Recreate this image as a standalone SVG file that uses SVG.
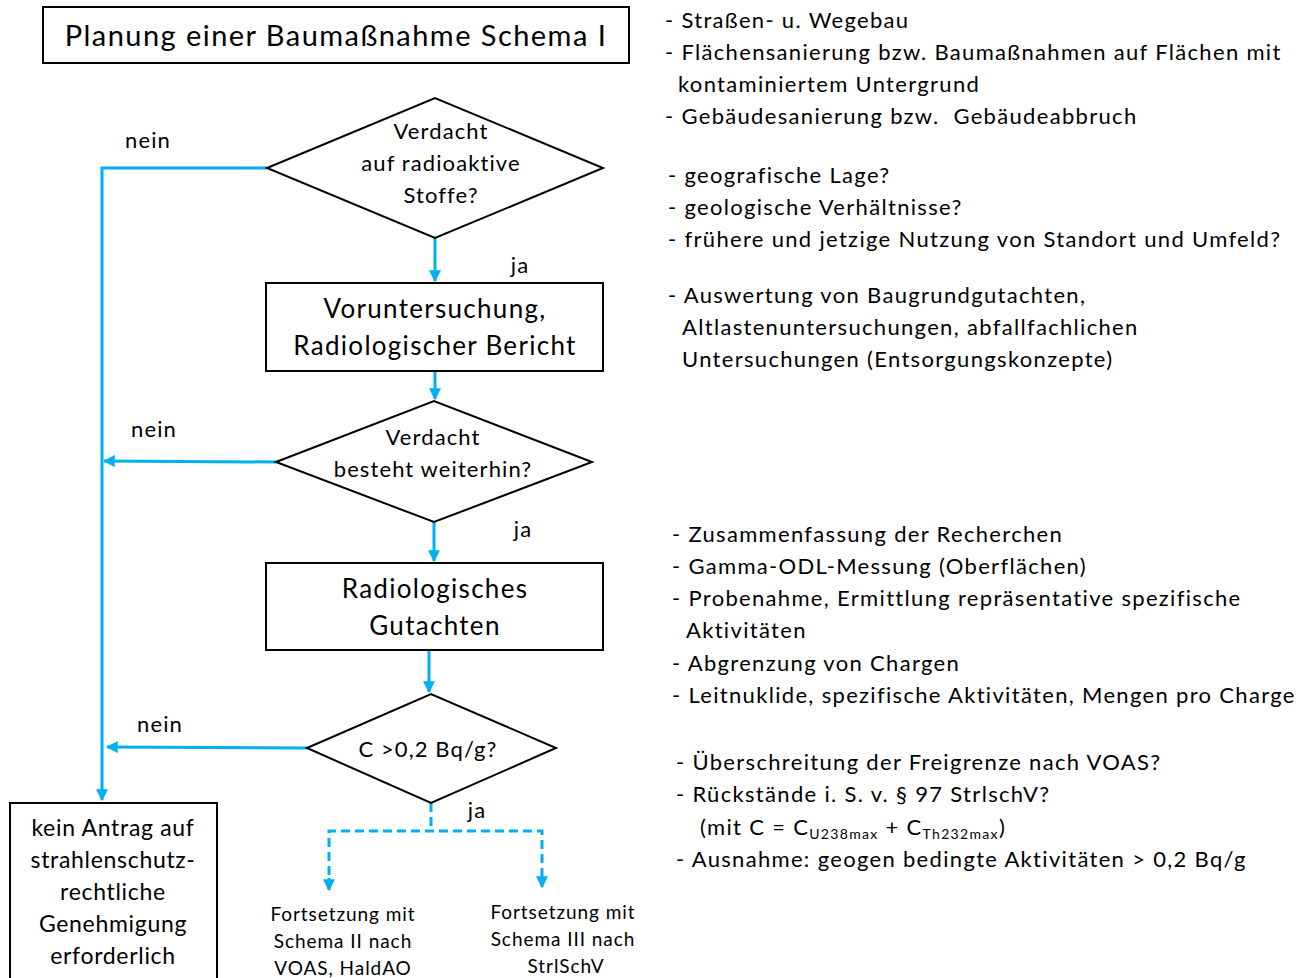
<svg xmlns="http://www.w3.org/2000/svg" width="1305" height="978" viewBox="0 0 1305 978">
<defs>
<marker id="ah" viewBox="0 0 10 10" refX="9" refY="5" markerWidth="4" markerHeight="4" orient="auto" markerUnits="strokeWidth">
<path d="M0,0 L10,5 L0,10 z" fill="#00B0F0"/>
</marker>
</defs>
<style>
text{font-family:Lato,"Open Sans","Liberation Sans",sans-serif;fill:#000;letter-spacing:0.05em}
.box{fill:#fff;stroke:#000;stroke-width:2}
.c{stroke:#00B0F0;stroke-width:3;fill:none}
.d{stroke:#00B0F0;stroke-width:3;fill:none;stroke-dasharray:9,5}
.n{font-size:22px;text-anchor:middle}
.b{font-size:26px;text-anchor:middle}
.r{font-size:22px;letter-spacing:0.06em}
.s{font-size:19px;text-anchor:middle}
.k{font-size:23px;text-anchor:middle;letter-spacing:0.03em}
</style>
<rect width="1305" height="978" fill="#fff"/>
<g id="title"><rect class="box" x="43" y="7" width="586" height="56"/><text x="336" y="46" font-size="29" text-anchor="middle">Planung einer Baumaßnahme Schema I</text></g>
<g id="connectors">
<polyline class="c" points="267,168 102,168 102,800" marker-end="url(#ah)"/>
<line class="c" x1="435" y1="238" x2="435" y2="281" marker-end="url(#ah)"/>
<line class="c" x1="435" y1="371" x2="435" y2="399" marker-end="url(#ah)"/>
<line class="c" x1="276" y1="462" x2="104" y2="461" marker-end="url(#ah)"/>
<line class="c" x1="434" y1="522" x2="434" y2="561" marker-end="url(#ah)"/>
<line class="c" x1="429" y1="650" x2="429" y2="692" marker-end="url(#ah)"/>
<line class="c" x1="307" y1="748" x2="107" y2="747" marker-end="url(#ah)"/>
<polyline class="d" points="431,803 431,831"/>
<polyline class="d" points="329,889 329,831 542,831 542,887" marker-end="url(#ah)"/>
<line class="c" x1="329" y1="878" x2="329" y2="890" marker-end="url(#ah)"/>
<text x="148" y="148" class="n">nein</text>
<text x="520" y="273" class="n">ja</text>
<text x="154" y="437" class="n">nein</text>
<text x="523" y="537" class="n">ja</text>
<text x="160" y="732" class="n">nein</text>
<text x="477" y="818" class="n">ja</text>
</g>
<g id="d1"><polygon class="box" points="267,168 435,98 603,168 435,238"/>
<text class="n" x="441" y="139">Verdacht</text><text class="n" x="441" y="171">auf radioaktive</text><text class="n" x="441" y="203">Stoffe?</text></g>
<g id="b1"><rect class="box" x="266" y="283" width="337" height="88"/>
<text class="b" x="435" y="318">Voruntersuchung,</text><text class="b" x="435" y="355">Radiologischer Bericht</text></g>
<g id="d2"><polygon class="box" points="276,462 434,401 592,462 434,522"/>
<text class="n" x="433" y="445">Verdacht</text><text class="n" x="433" y="477">besteht weiterhin?</text></g>
<g id="b2"><rect class="box" x="266" y="563" width="337" height="87"/>
<text class="b" x="435" y="598">Radiologisches</text><text class="b" x="435" y="635">Gutachten</text></g>
<g id="d3"><polygon class="box" points="307,748 431,694 556,748 431,803"/>
<text class="n" x="428" y="757">C &gt;0,2 Bq/g?</text></g>
<g id="b3"><rect class="box" x="10" y="803" width="207" height="185"/>
<text class="k" x="113" y="836">kein Antrag auf</text><text class="k" x="113" y="868">strahlenschutz-</text><text class="k" x="113" y="900">rechtliche</text><text class="k" x="113" y="932">Genehmigung</text><text class="k" x="113" y="964">erforderlich</text></g>
<g id="f1"><text class="s" x="343" y="921">Fortsetzung mit</text><text class="s" x="343" y="948">Schema II nach</text><text class="s" x="343" y="975">VOAS, HaldAO</text></g>
<g id="f2"><text class="s" x="563" y="919">Fortsetzung mit</text><text class="s" x="563" y="946">Schema III nach</text><text class="s" x="566" y="973">StrlSchV</text></g>
<g id="notes">
<text class="r" x="665" y="28">- Straßen- u. Wegebau</text>
<text class="r" x="665" y="60">- Flächensanierung bzw. Baumaßnahmen auf Flächen mit</text>
<text class="r" x="678" y="92">kontaminiertem Untergrund</text>
<text class="r" x="665" y="124" xml:space="preserve">- Gebäudesanierung bzw.  Gebäudeabbruch</text>
<text class="r" x="668" y="183">- geografische Lage?</text>
<text class="r" x="668" y="215">- geologische Verhältnisse?</text>
<text class="r" x="668" y="247">- frühere und jetzige Nutzung von Standort und Umfeld?</text>
<text class="r" x="668" y="303">- Auswertung von Baugrundgutachten,</text>
<text class="r" x="682" y="335">Altlastenuntersuchungen, abfallfachlichen</text>
<text class="r" x="682" y="367">Untersuchungen (Entsorgungskonzepte)</text>
<text class="r" x="672" y="542">- Zusammenfassung der Recherchen</text>
<text class="r" x="672" y="574">- Gamma-ODL-Messung (Oberflächen)</text>
<text class="r" x="672" y="606">- Probenahme, Ermittlung repräsentative spezifische</text>
<text class="r" x="686" y="638">Aktivitäten</text>
<text class="r" x="672" y="671">- Abgrenzung von Chargen</text>
<text class="r" x="672" y="703">- Leitnuklide, spezifische Aktivitäten, Mengen pro Charge</text>
<text class="r" x="676" y="770">- Überschreitung der Freigrenze nach VOAS?</text>
<text class="r" x="676" y="802">- Rückstände i. S. v. § 97 StrlschV?</text>
<text class="r" x="700" y="835">(mit C = C<tspan font-size="14" dy="4">U238max</tspan><tspan dy="-4"> + C</tspan><tspan font-size="14" dy="4">Th232max</tspan><tspan dy="-4">)</tspan></text>
<text class="r" x="676" y="867">- Ausnahme: geogen bedingte Aktivitäten &gt; 0,2 Bq/g</text>
</g>
</svg>
